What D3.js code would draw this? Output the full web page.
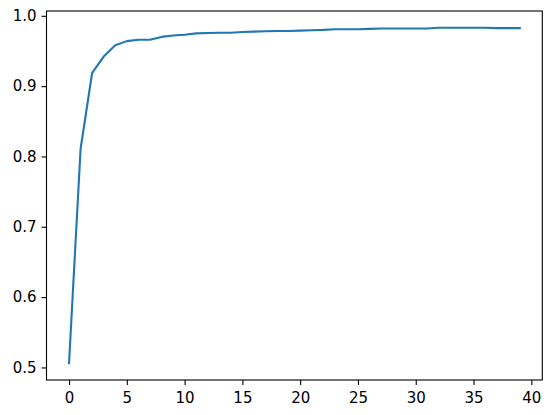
<!DOCTYPE html>
<html>
<head>
<meta charset="utf-8">
<script src="https://cdn.jsdelivr.net/npm/d3@7"></script>
<style>
  body { margin: 0; background: #fff; }
  svg { display: block; }
  .tick text { font-family: "DejaVu Sans", sans-serif; font-size: 15px; fill: #000; }
</style>
</head>
<body>
<svg id="chart" width="552" height="415"></svg>
<script>
// epochs along x, accuracy-like value along y
const epochs = d3.range(0, 40);
const values = [
  0.506, 0.811, 0.919, 0.942, 0.958, 0.964, 0.966, 0.966, 0.970, 0.972,
  0.973, 0.975, 0.9755, 0.976, 0.976, 0.977, 0.9775, 0.978, 0.9785, 0.9785,
  0.979, 0.9795, 0.980, 0.981, 0.981, 0.981, 0.9815, 0.982, 0.982, 0.982,
  0.982, 0.982, 0.983, 0.983, 0.983, 0.983, 0.983, 0.9825, 0.9825, 0.9825
];
const xTicks = [0, 5, 10, 15, 20, 25, 30, 35, 40];
const yTicks = [0.5, 0.6, 0.7, 0.8, 0.9, 1.0];

const width = 552, height = 415;
const margin = { top: 11, right: 9.7, bottom: 35, left: 46.5 };

const svg = d3.select("#chart");

// matplotlib style 5% padding around the data range
const xMin = d3.min(epochs), xMax = d3.max(epochs);
const xPad = (xMax - xMin) * 0.05;
const yMin = d3.min(values), yMax = d3.max(values);
const yPad = (yMax - yMin) * 0.05;

const x = d3.scaleLinear()
  .domain([xMin - xPad, xMax + xPad])
  .range([margin.left, width - margin.right]);
const y = d3.scaleLinear()
  .domain([yMin - yPad, yMax + yPad])
  .range([height - margin.bottom, margin.top]);

const line = d3.line()
  .x((d, i) => x(epochs[i]))
  .y(d => y(d));

svg.append("path")
  .datum(values)
  .attr("fill", "none")
  .attr("stroke", "#1f77b4")
  .attr("stroke-width", 2.1)
  .attr("stroke-linejoin", "round")
  .attr("stroke-linecap", "square")
  .attr("d", line);

// axes
const xAxis = svg.append("g")
  .attr("transform", `translate(0,${height - margin.bottom})`)
  .call(d3.axisBottom(x).tickValues(xTicks).tickFormat(d3.format("d"))
    .tickSize(5).tickPadding(5));
const yAxis = svg.append("g")
  .attr("transform", `translate(${margin.left},0)`)
  .call(d3.axisLeft(y).tickValues(yTicks).tickFormat(d3.format(".1f"))
    .tickSize(5).tickPadding(5));

[xAxis, yAxis].forEach(g => {
  g.select(".domain").remove();
  g.selectAll(".tick line").attr("stroke", "#000").attr("stroke-width", 1.1);
});
xAxis.selectAll(".tick text").attr("dy", "0.85em");

// frame (spines)
svg.append("rect")
  .attr("x", margin.left)
  .attr("y", margin.top)
  .attr("width", width - margin.left - margin.right)
  .attr("height", height - margin.top - margin.bottom)
  .attr("fill", "none")
  .attr("stroke", "#000")
  .attr("stroke-width", 1.1);
</script>
</body>
</html>
